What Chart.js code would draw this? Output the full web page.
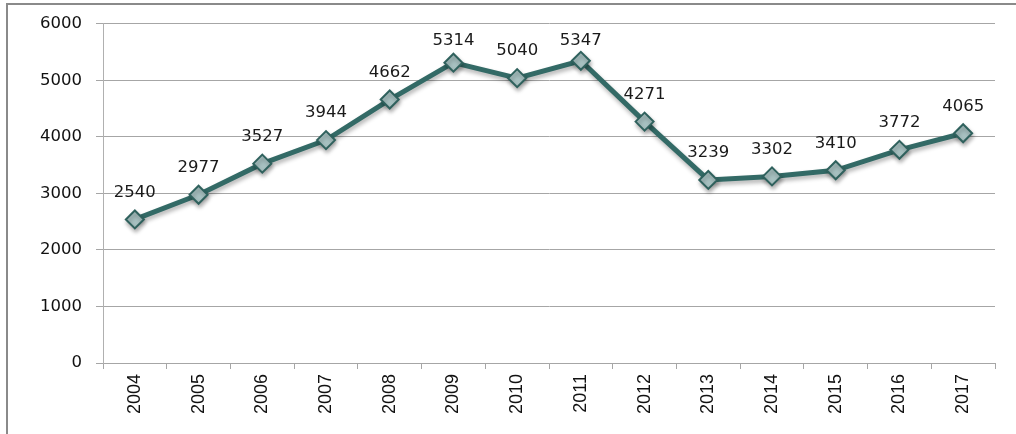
<!DOCTYPE html>
<html>
<head>
<meta charset="utf-8">
<script src="https://cdn.jsdelivr.net/npm/chart.js@4.4.1/dist/chart.umd.min.js"></script>
<style>
  html, body { margin: 0; padding: 0; background: #fff; }
  #wrap { position: relative; width: 1016px; height: 434px; }
  #frame { position: absolute; left: 6px; top: 3px; right: 0; bottom: 0;
           border-left: 2px solid #8a8a8a; border-top: 2px solid #8a8a8a; }
  canvas { position: absolute; left: 0; top: 0; }
</style>
</head>
<body>
<div id="wrap">
  <div id="frame"></div>
  <canvas id="lineChart" width="1016" height="434"></canvas>
</div>
<script>
// chart data
const years = ['2004', '2005', '2006', '2007', '2008', '2009', '2010',
               '2011', '2012', '2013', '2014', '2015', '2016', '2017'];
const values = [2540, 2977, 3527, 3944, 4662, 5314, 5040,
                5347, 4271, 3239, 3302, 3410, 3772, 4065];
const yTicks = [0, 1000, 2000, 3000, 4000, 5000, 6000];

// draws the value above each point
const valueLabels = {
    id: 'valueLabels',
    afterDatasetsDraw(chart) {
        const ctx = chart.ctx;
        const meta = chart.getDatasetMeta(0);
        ctx.save();
        ctx.font = '16.5px "DejaVu Sans"';
        ctx.fillStyle = '#1a1a1a';
        ctx.textAlign = 'center';
        ctx.textBaseline = 'middle';
        meta.data.forEach((pt, i) => {
            const y = Math.max(pt.y - 27, 41);
            ctx.fillText(String(values[i]), pt.x, y);
        });
        ctx.restore();
    }
};

// soft shadow under the line and markers
const shadow = {
    id: 'shadow',
    beforeDatasetDraw(chart) {
        const ctx = chart.ctx;
        ctx.save();
        ctx.shadowColor = 'rgba(0,0,0,0.3)';
        ctx.shadowBlur = 4;
        ctx.shadowOffsetX = 1;
        ctx.shadowOffsetY = 3;
    },
    afterDatasetDraw(chart) {
        chart.ctx.restore();
    }
};

const ctx = document.getElementById('lineChart').getContext('2d');
new Chart(ctx, {
    type: 'line',
    data: {
        labels: years,
        datasets: [{
            data: values,
            borderColor: '#336a66',
            borderWidth: 5,
            tension: 0,
            pointStyle: 'rectRot',
            pointRadius: 9,
            pointBackgroundColor: '#a8c2c2',
            pointBorderColor: '#2f615d',
            pointBorderWidth: 2
        }]
    },
    options: {
        responsive: false,
        animation: false,
        layout: { padding: { top: 22, right: 21, left: 0, bottom: 0 } },
        plugins: {
            legend: { display: false },
            tooltip: { enabled: false }
        },
        scales: {
            x: {
                offset: true,
                grid: {
                    offset: true,
                    drawOnChartArea: false,
                    tickLength: 6,
                    color: '#a6a6a6'
                },
                border: { color: '#a6a6a6', width: 1 },
                ticks: {
                    minRotation: 90,
                    maxRotation: 90,
                    padding: 5,
                    color: '#111',
                    font: { family: '"Liberation Sans"', size: 18 }
                },
                afterFit(scale) { scale.height = 71; }
            },
            y: {
                min: 0,
                max: 6000,
                afterBuildTicks(scale) {
                    scale.ticks = yTicks.map(v => ({ value: v }));
                },
                grid: {
                    color: '#a6a6a6',
                    tickLength: 7
                },
                border: { color: '#b0b0b0', width: 1 },
                ticks: {
                    padding: 14,
                    color: '#111',
                    font: { family: '"DejaVu Sans"', size: 16.5 },
                    callback: (v) => String(v)
                },
                afterFit(scale) { scale.width = 103; }
            }
        }
    },
    plugins: [shadow, valueLabels]
});
</script>
</body>
</html>
